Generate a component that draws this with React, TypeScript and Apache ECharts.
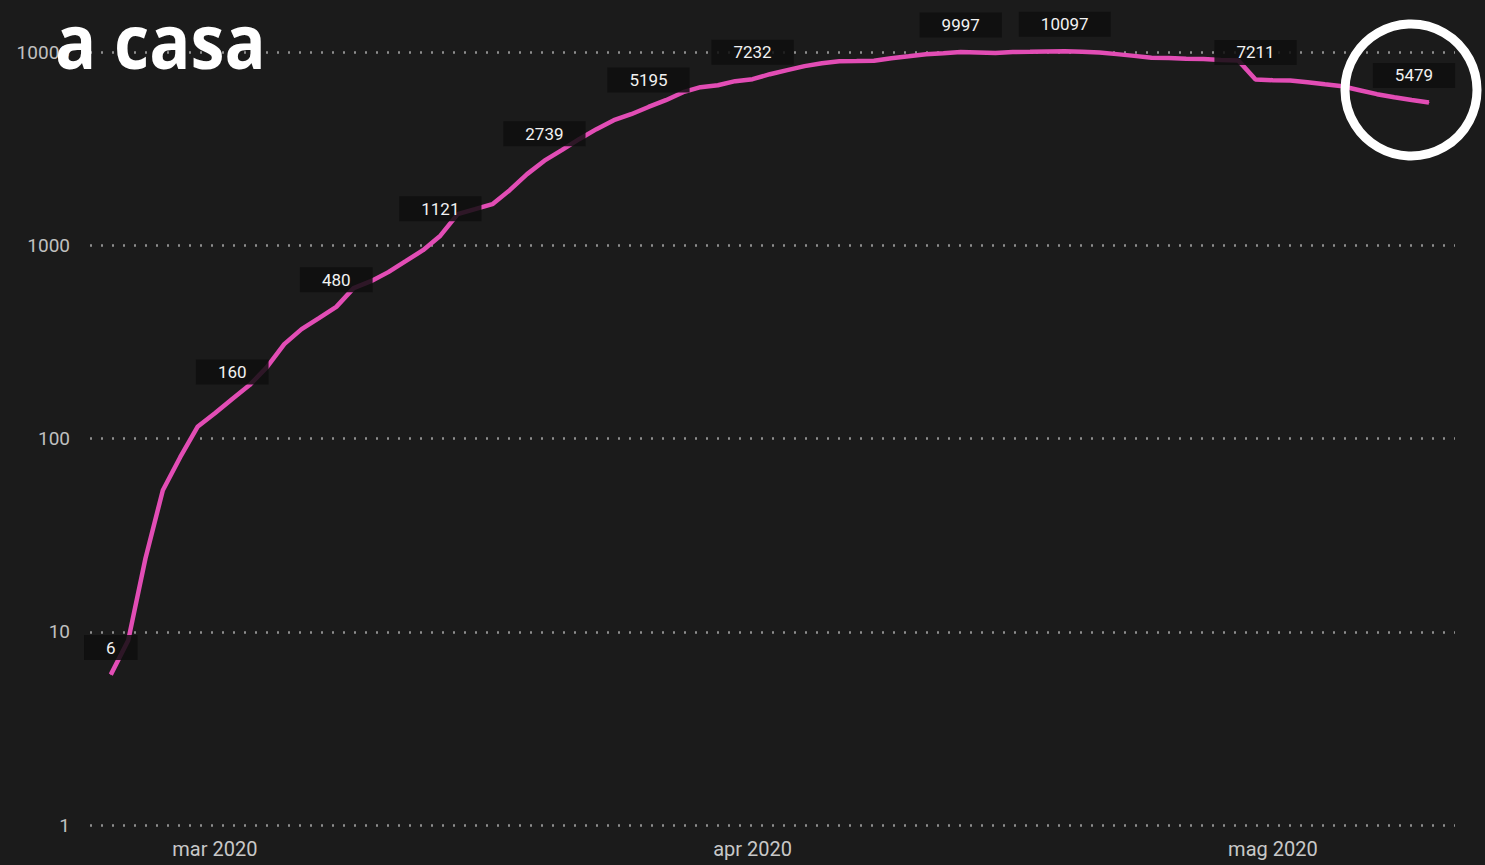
import React, { useEffect, useRef } from "react";
import * as echarts from "echarts";

// ---- data ----
const START_UTC = Date.UTC(2020, 1, 24); // 24 Feb 2020
const DAY = 86400000;

const values: number[] = [
  6, 9, 24, 54, 80, 115, 135, 160, 189, 234,
  308, 368, 420, 480, 600, 652, 726, 827, 943, 1121,
  1449, 1537, 1632, 1928, 2333, 2739, 3104, 3538, 3988, 4437,
  4765, 5195, 5632, 6196, 6577, 6731, 7063, 7232, 7676, 8053,
  8450, 8751, 8955, 8980, 9010, 9290, 9510, 9740, 9860, 9997,
  9950, 9880, 9990, 10020, 10060, 10097, 10040, 9950, 9750, 9550,
  9350, 9320, 9230, 9200, 9100, 9050, 7211, 7145, 7120, 6982,
  6810, 6650, 6343, 6050, 5836, 5640, 5479,
];

const dates: number[] = values.map((_, i) => START_UTC + i * DAY);

const labelledIdx: number[] = [0, 7, 13, 19, 25, 31, 37, 49, 55, 66, 76];

const monthTicks: number[] = [Date.UTC(2020, 2, 1), Date.UTC(2020, 3, 1), Date.UTC(2020, 4, 1)];
const monthLabels: string[] = ["mar 2020", "apr 2020", "mag 2020"];

const TITLE = "a casa";

export default function App() {
  const ref = useRef<HTMLDivElement>(null);

  useEffect(() => {
    if (!ref.current) return;
    const chart = echarts.init(ref.current, undefined, { renderer: "svg" });

    const lastIdx = values.length - 1;
    const data = values.map((v, i) => {
      const item: any = { value: [dates[i], v] };
      if (labelledIdx.includes(i)) {
        item.label = { show: true };
      }
      return item;
    });

    chart.setOption({
      animation: false,
      backgroundColor: "#1b1b1b",
      grid: { left: 90, right: 30, top: 52, bottom: 40, containLabel: false },
      xAxis: {
        type: "value",
        min: START_UTC - 1.2 * DAY,
        max: START_UTC + 77.5 * DAY,
        axisLine: { show: false },
        axisTick: { show: false },
        splitLine: { show: false },
        axisLabel: {
          customValues: monthTicks,
          color: "#c8c8c8",
          fontSize: 20,
          fontFamily: "Roboto",
          margin: 14,
          formatter: (val: number) => {
            const idx = monthTicks.indexOf(val);
            return idx >= 0 ? monthLabels[idx] : "";
          },
        },
      },
      yAxis: {
        type: "log",
        logBase: 10,
        min: 1,
        max: 10000,
        axisLine: { show: false },
        axisTick: { show: false },
        axisLabel: {
          color: "#c0c0c0",
          fontSize: 19,
          fontFamily: "Roboto",
          margin: 20,
          formatter: (v: number) => String(Math.round(v)),
        },
        splitLine: {
          show: true,
          lineStyle: { color: "#8e8e8e", width: 2.5, type: [2, 9] },
        },
      },
      series: [
        {
          type: "line",
          data,
          showSymbol: true,
          showAllSymbol: true,
          symbol: "circle",
          symbolSize: 1,
          clip: false,
          itemStyle: { color: "#e24db5" },
          lineStyle: { color: "#e24db5", width: 4.5 },
          label: {
            show: false,
            position: "top",
            distance: 14,
            color: "#f2f2f2",
            opacity: 1,
            fontSize: 17,
            fontFamily: "Roboto",
            backgroundColor: "rgba(14,14,14,0.85)",
            padding: [4, 22],
            formatter: (p: any) => String(p.value[1]),
          },
          labelLayout: (params: any) =>
            params.dataIndex === lastIdx ? { dx: -15, hideOverlap: false } : { hideOverlap: false },
        },
      ],
      graphic: [
        {
          type: "text",
          x: 55,
          y: 40,
          scaleX: 0.9,
          z: 100,
          style: {
            text: TITLE,
            fill: "#ffffff",
            font: "bold 76px 'Open Sans'",
            align: "left",
            verticalAlign: "middle",
          },
        },
        {
          type: "circle",
          z: 100,
          shape: { cx: 1411, cy: 90, r: 66 },
          style: { fill: "none", stroke: "#ffffff", lineWidth: 9 },
        },
      ],
    });

    return () => chart.dispose();
  }, []);

  return (
    <div
      ref={ref}
      style={{ position: "fixed", left: 0, top: 0, width: 1485, height: 865 }}
    />
  );
}
